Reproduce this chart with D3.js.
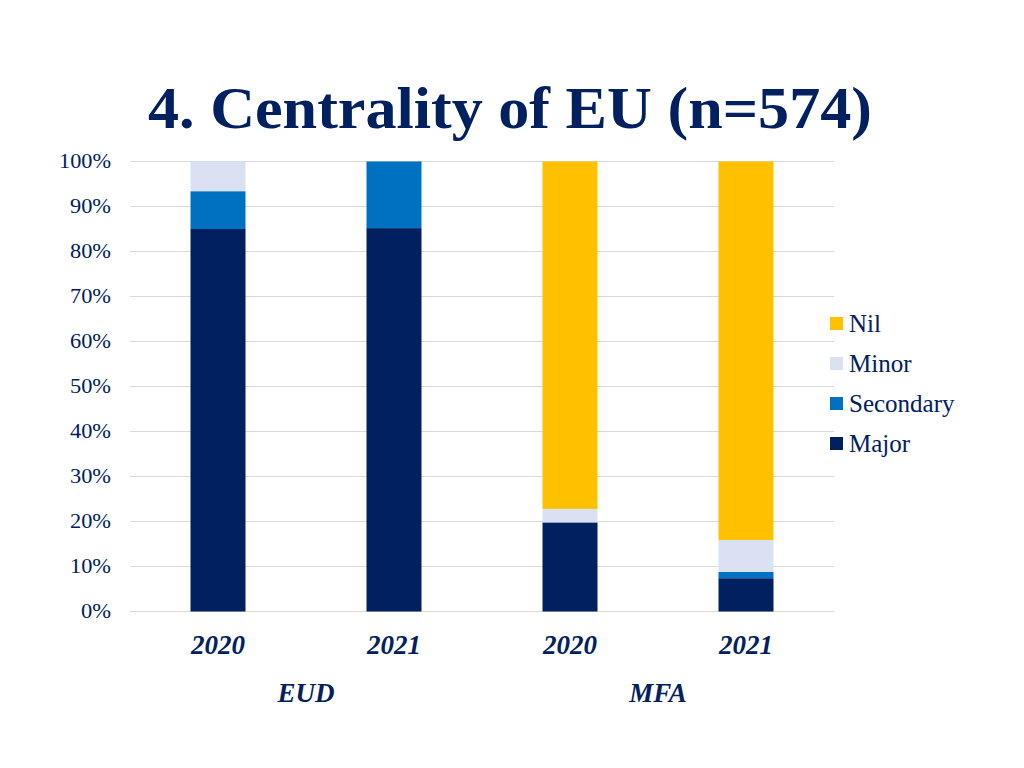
<!DOCTYPE html>
<html><head><meta charset="utf-8">
<script src="https://cdn.jsdelivr.net/npm/d3@7"></script>
<style>body{margin:0;background:#fff}svg{display:block}</style>
</head><body>
<svg id="c" width="1024" height="768"></svg>
<script>
const categories = ["2020","2021","2020","2021"];
const groups = ["EUD","MFA"];
const groupOf = [0,0,1,1];
const seriesNames = ["Major","Secondary","Minor","Nil"];
const major =     [85.0, 85.2, 19.8, 7.4];
const secondary = [8.4, 14.8, 0, 1.4];
const minor =     [6.6, 0, 3.0, 7.1];
const nil =       [0, 0, 77.2, 84.1];
const colors = ["#002060","#0070C0","#D9E1F2","#FFC000"];
const yTicks = [0,10,20,30,40,50,60,70,80,90,100];

const svg = d3.select("#c");
const navy = "#002060";
const x = d3.scaleBand().domain(d3.range(categories.length)).range([130,834]).paddingInner(0.6875).paddingOuter(0.34375);
const y = d3.scaleLinear().domain([0,100]).range([611.5,161.5]);

// grid
svg.append("g").selectAll("line").data(yTicks).join("line")
  .attr("x1",130).attr("x2",834).attr("y1",d=>y(d)).attr("y2",d=>y(d))
  .attr("stroke","#D9D9D9").attr("stroke-width",1.2);

// y labels
svg.append("g").selectAll("text").data(yTicks).join("text")
  .attr("x",111).attr("y",d=>y(d)+6.5).attr("text-anchor","end")
  .attr("font-family","Liberation Serif").attr("font-size",20).attr("fill",navy)
  .attr("textLength",d=>d===100?52:(d===0?30:41)).attr("lengthAdjust","spacingAndGlyphs")
  .text(d=>d+"%");

const rows = categories.map((c,i)=>({i, Major:major[i], Secondary:secondary[i], Minor:minor[i], Nil:nil[i]}));
const stack = d3.stack().keys(seriesNames)(rows);
svg.append("g").selectAll("g").data(stack).join("g").attr("fill",(d,k)=>colors[k])
  .selectAll("rect").data(d=>d).join("rect")
  .attr("x",d=>x(d.data.i)).attr("width",x.bandwidth())
  .attr("y",d=>y(d[1])).attr("height",d=>y(d[0])-y(d[1]));

// category labels
svg.append("g").selectAll("text").data(categories).join("text")
  .attr("x",(d,i)=>x(i)+x.bandwidth()/2).attr("y",654).attr("text-anchor","middle")
  .attr("font-family","Liberation Serif").attr("font-size",27).attr("font-weight","bold").attr("font-style","italic")
  .attr("fill",navy).text(d=>d);

// group labels
svg.append("g").selectAll("text").data(groups).join("text")
  .attr("x",(d,g)=>{const idx=d3.range(categories.length).filter(i=>groupOf[i]===g);return (x(idx[0])+x(idx[idx.length-1])+x.bandwidth())/2;})
  .attr("y",702).attr("text-anchor","middle")
  .attr("font-family","Liberation Serif").attr("font-size",27).attr("font-weight","bold").attr("font-style","italic")
  .attr("fill",navy).text(d=>d);

// legend
const legOrder = ["Nil","Minor","Secondary","Major"];
const lg = svg.append("g").selectAll("g").data(legOrder).join("g")
  .attr("transform",(d,i)=>`translate(830,${324+i*40})`);
lg.append("rect").attr("x",0).attr("y",-7).attr("width",13).attr("height",13)
  .attr("fill",d=>colors[seriesNames.indexOf(d)]);
lg.append("text").attr("x",19).attr("y",8).attr("font-family","Liberation Serif").attr("font-size",25)
  .attr("fill",navy).text(d=>d);

// title
svg.append("text").attr("x",510).attr("y",128).attr("text-anchor","middle")
  .attr("font-family","Liberation Serif").attr("font-weight","bold").attr("font-size",60)
  .attr("fill",navy).attr("textLength",724).attr("lengthAdjust","spacingAndGlyphs")
  .text("4. Centrality of EU (n=574)");
</script>
</body></html>
